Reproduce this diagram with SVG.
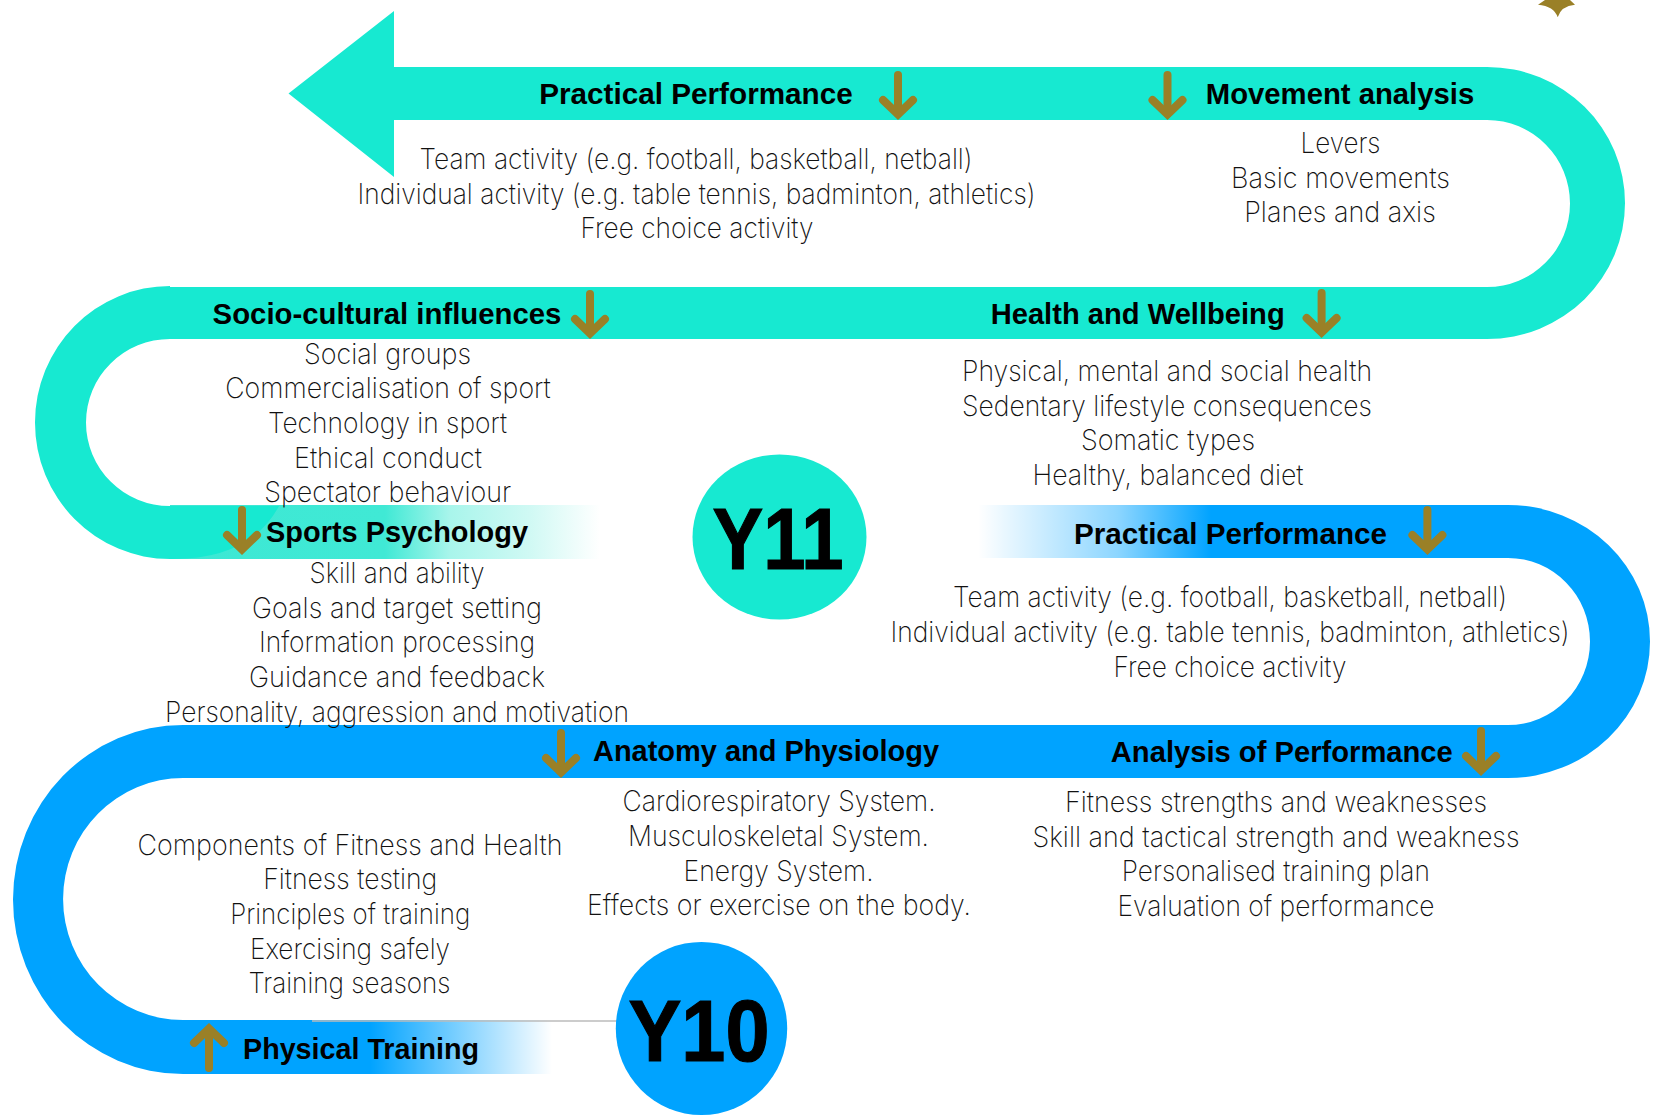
<svg xmlns="http://www.w3.org/2000/svg" width="1655" height="1116" viewBox="0 0 1655 1116">
<style>
text{text-anchor:middle}
.h{font-family:"Liberation Sans",Arial,sans-serif;font-weight:700;font-size:29px;fill:#000}
.b{font-family:Inter,Roboto,"Liberation Sans",sans-serif;font-weight:200;font-size:28px;fill:#111}
.y{font-family:"Liberation Sans",Arial,sans-serif;font-weight:700;font-size:88px;fill:#000;stroke:#000;stroke-width:1.2}
.teal{fill:#17e9d1}
.blue{fill:#00a3ff}
.gold{fill:#9a8027}
.shaft{fill:none;stroke:#9a8027;stroke-width:8;stroke-linecap:round}
.head{fill:none;stroke:#9a8027;stroke-width:8;stroke-linecap:round;stroke-linejoin:miter}
</style>
<defs>
<linearGradient id="gTeal" gradientUnits="userSpaceOnUse" x1="170" y1="0" x2="600" y2="0">
<stop offset="0" stop-color="#3de8d4"/><stop offset=".5" stop-color="#40e9d5"/><stop offset=".65" stop-color="#a8f5eb"/><stop offset=".837" stop-color="#d0f9f4"/><stop offset="1" stop-color="#fff"/>
</linearGradient>
<linearGradient id="gBlueR" gradientUnits="userSpaceOnUse" x1="978" y1="0" x2="1211" y2="0">
<stop offset="0" stop-color="#00a3ff" stop-opacity="0"/><stop offset=".6" stop-color="#00a3ff" stop-opacity=".45"/><stop offset="1" stop-color="#00a3ff"/>
</linearGradient>
<linearGradient id="gBlueL" gradientUnits="userSpaceOnUse" x1="370" y1="0" x2="552" y2="0">
<stop offset="0" stop-color="#00a3ff"/><stop offset="1" stop-color="#00a3ff" stop-opacity="0"/>
</linearGradient>
<g id="arrow">
<path class="shaft" d="M0,-45V-8"/>
<path class="head" d="M-15,-20L0,-5.5L15,-20"/>
</g>
</defs>
<rect width="1655" height="1116" fill="#fff"/>
<g id="connectors">
<rect x="170" y="505" width="430" height="54" fill="url(#gTeal)"/>
<path class="teal" d="M394,11L288.5,93.6L394,177V120H1487A83,83.5 0 0 1 1487,287H170V286A135,136.5 0 0 0 170,559Q250,560 279,506H170A84,83.5 0 0 1 170,339H1487A138,136 0 0 0 1487,67H394Z"/>
<path class="blue" d="M1211,505H1508A142,136.5 0 0 1 1508,778H183A120,121 0 0 0 183,1020H370V1074H183A170,174.5 0 0 1 183,725H1508A82,83.5 0 0 0 1508,558H1211Z"/>
<rect x="978" y="505" width="233" height="53" fill="url(#gBlueR)"/>
<rect x="370" y="1020" width="182" height="54" fill="url(#gBlueL)"/>
<line x1="312" y1="1021" x2="617" y2="1021" stroke="#bbb" stroke-width="1.5"/>
<use href="#arrow" x="898" y="120"/>
<use href="#arrow" x="1167.5" y="120"/>
<use href="#arrow" x="590" y="339"/>
<use href="#arrow" x="1321.6" y="338"/>
<use href="#arrow" x="242" y="555"/>
<use href="#arrow" x="1427.4" y="555"/>
<use href="#arrow" x="561" y="778"/>
<use href="#arrow" x="1481" y="776"/>
<use href="#arrow" transform="translate(209,1023) rotate(180)"/>
<path class="gold" d="M1545,0L1538,4.7Q1554,6 1557.7,17.3Q1561,6 1575,4.7L1570,0Z"/>
</g>
<g id="y11"><ellipse class="teal" cx="779.5" cy="537" rx="87" ry="82.6"/><text class="y" x="778" y="569" textLength="131" lengthAdjust="spacingAndGlyphs">Y11</text></g>
<g id="y10"><ellipse class="blue" cx="701.5" cy="1028.5" rx="85.7" ry="86.6"/><text class="y" x="699" y="1061" textLength="141" lengthAdjust="spacingAndGlyphs">Y10</text></g>
<g id="practical-performance-y11">
<text class="h" x="696" y="104" textLength="313.5" lengthAdjust="spacingAndGlyphs">Practical Performance</text>
<text class="b" x="696" y="168.6" textLength="553" lengthAdjust="spacingAndGlyphs">Team activity (e.g. football, basketball, netball)</text>
<text class="b" x="696.5" y="203.6" textLength="678" lengthAdjust="spacingAndGlyphs">Individual activity (e.g. table tennis, badminton, athletics)</text>
<text class="b" x="697" y="237.5" textLength="233" lengthAdjust="spacingAndGlyphs">Free choice activity</text>
</g>
<g id="movement-analysis">
<text class="h" x="1340" y="104" textLength="268.4" lengthAdjust="spacingAndGlyphs">Movement analysis</text>
<text class="b" x="1340.5" y="153" textLength="80" lengthAdjust="spacingAndGlyphs">Levers</text>
<text class="b" x="1340.5" y="187.5" textLength="219" lengthAdjust="spacingAndGlyphs">Basic movements</text>
<text class="b" x="1340" y="222" textLength="191.6" lengthAdjust="spacingAndGlyphs">Planes and axis</text>
</g>
<g id="socio-cultural">
<text class="h" x="387" y="323.7" textLength="348.8" lengthAdjust="spacingAndGlyphs">Socio-cultural influences</text>
<text class="b" x="387.5" y="364" textLength="167" lengthAdjust="spacingAndGlyphs">Social groups</text>
<text class="b" x="388" y="398" textLength="325.5" lengthAdjust="spacingAndGlyphs">Commercialisation of sport</text>
<text class="b" x="387.5" y="433" textLength="239" lengthAdjust="spacingAndGlyphs">Technology in sport</text>
<text class="b" x="388" y="468" textLength="188" lengthAdjust="spacingAndGlyphs">Ethical conduct</text>
<text class="b" x="387.7" y="502" textLength="247" lengthAdjust="spacingAndGlyphs">Spectator behaviour</text>
</g>
<g id="health-wellbeing">
<text class="h" x="1137.7" y="323.7" textLength="294" lengthAdjust="spacingAndGlyphs">Health and Wellbeing</text>
<text class="b" x="1167" y="381.4" textLength="410" lengthAdjust="spacingAndGlyphs">Physical, mental and social health</text>
<text class="b" x="1167" y="416" textLength="410" lengthAdjust="spacingAndGlyphs">Sedentary lifestyle consequences</text>
<text class="b" x="1168" y="450" textLength="174" lengthAdjust="spacingAndGlyphs">Somatic types</text>
<text class="b" x="1168" y="484.6" textLength="271" lengthAdjust="spacingAndGlyphs">Healthy, balanced diet</text>
</g>
<g id="sports-psychology">
<text class="h" x="397" y="541.8" textLength="262" lengthAdjust="spacingAndGlyphs">Sports Psychology</text>
<text class="b" x="397" y="583" textLength="175" lengthAdjust="spacingAndGlyphs">Skill and ability</text>
<text class="b" x="397" y="618" textLength="290" lengthAdjust="spacingAndGlyphs">Goals and target setting</text>
<text class="b" x="397" y="652.4" textLength="276" lengthAdjust="spacingAndGlyphs">Information processing</text>
<text class="b" x="397" y="687" textLength="296" lengthAdjust="spacingAndGlyphs">Guidance and feedback</text>
<text class="b" x="397" y="722" textLength="464" lengthAdjust="spacingAndGlyphs">Personality, aggression and motivation</text>
</g>
<g id="practical-performance-y10">
<text class="h" x="1230.5" y="543.5" textLength="313" lengthAdjust="spacingAndGlyphs">Practical Performance</text>
<text class="b" x="1230" y="606.8" textLength="554" lengthAdjust="spacingAndGlyphs">Team activity (e.g. football, basketball, netball)</text>
<text class="b" x="1230" y="641.8" textLength="679" lengthAdjust="spacingAndGlyphs">Individual activity (e.g. table tennis, badminton, athletics)</text>
<text class="b" x="1230" y="677" textLength="233" lengthAdjust="spacingAndGlyphs">Free choice activity</text>
</g>
<g id="anatomy-physiology">
<text class="h" x="766" y="761" textLength="346" lengthAdjust="spacingAndGlyphs">Anatomy and Physiology</text>
<text class="b" x="779" y="811.4" textLength="313" lengthAdjust="spacingAndGlyphs">Cardiorespiratory System.</text>
<text class="b" x="778.5" y="846" textLength="301" lengthAdjust="spacingAndGlyphs">Musculoskeletal System.</text>
<text class="b" x="778.5" y="880.5" textLength="190" lengthAdjust="spacingAndGlyphs">Energy System.</text>
<text class="b" x="779" y="915" textLength="384" lengthAdjust="spacingAndGlyphs">Effects or exercise on the body.</text>
</g>
<g id="analysis-of-performance">
<text class="h" x="1281.8" y="762" textLength="342" lengthAdjust="spacingAndGlyphs">Analysis of Performance</text>
<text class="b" x="1276" y="812" textLength="422" lengthAdjust="spacingAndGlyphs">Fitness strengths and weaknesses</text>
<text class="b" x="1276" y="847" textLength="487" lengthAdjust="spacingAndGlyphs">Skill and tactical strength and weakness</text>
<text class="b" x="1275.8" y="881" textLength="308" lengthAdjust="spacingAndGlyphs">Personalised training plan</text>
<text class="b" x="1276" y="916" textLength="317" lengthAdjust="spacingAndGlyphs">Evaluation of performance</text>
</g>
<g id="physical-training">
<text class="h" x="361" y="1058.6" textLength="236" lengthAdjust="spacingAndGlyphs">Physical Training</text>
<text class="b" x="350" y="855" textLength="425" lengthAdjust="spacingAndGlyphs">Components of Fitness and Health</text>
<text class="b" x="350.3" y="889" textLength="174" lengthAdjust="spacingAndGlyphs">Fitness testing</text>
<text class="b" x="350.3" y="924" textLength="240" lengthAdjust="spacingAndGlyphs">Principles of training</text>
<text class="b" x="350" y="958.5" textLength="200" lengthAdjust="spacingAndGlyphs">Exercising safely</text>
<text class="b" x="349.5" y="992.5" textLength="202" lengthAdjust="spacingAndGlyphs">Training seasons</text>
</g>
</svg>
